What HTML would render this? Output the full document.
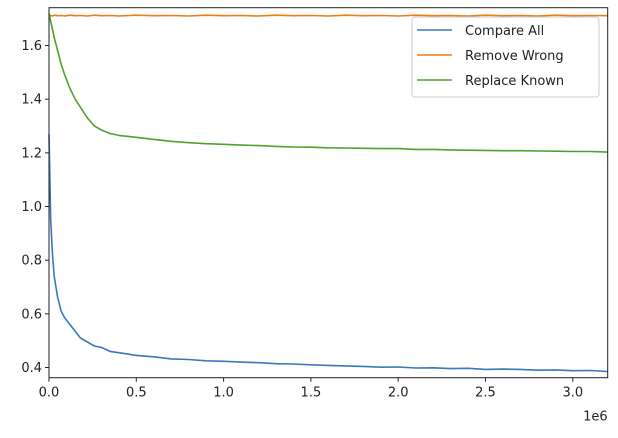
<!DOCTYPE html>
<html><head><meta charset="utf-8"><style>
body{margin:0;background:#fff;}
svg{display:block;font-family:"DejaVu Sans","Liberation Sans",sans-serif;}
</style></head><body>
<svg id="chart" width="618" height="438"></svg>
<script>
const xs = [0,0.01,0.02,0.03,0.05,0.07,0.09,0.12,0.15,0.18,0.22,0.26,0.3,0.35,0.4,0.5,0.6,0.7,0.8,0.9,1.0,1.1,1.2,1.3,1.4,1.5,1.6,1.7,1.8,1.9,2.0,2.1,2.2,2.3,2.4,2.5,2.6,2.7,2.8,2.9,3.0,3.1,3.2];
const compareAll = [1.27,0.95,0.82,0.74,0.66,0.61,0.585,0.56,0.535,0.51,0.495,0.48,0.475,0.46,0.455,0.445,0.44,0.432,0.43,0.425,0.423,0.42,0.418,0.414,0.413,0.41,0.408,0.406,0.404,0.401,0.402,0.398,0.399,0.396,0.397,0.393,0.394,0.393,0.39,0.391,0.388,0.389,0.385];
const removeWrong = [1.71,1.712,1.71,1.713,1.711,1.712,1.71,1.713,1.711,1.712,1.71,1.713,1.711,1.712,1.71,1.713,1.711,1.712,1.71,1.713,1.711,1.712,1.71,1.713,1.711,1.712,1.71,1.713,1.711,1.712,1.71,1.713,1.711,1.712,1.71,1.713,1.711,1.712,1.71,1.713,1.711,1.712,1.711];
const replaceKnown = [1.72,1.69,1.66,1.63,1.58,1.53,1.49,1.44,1.4,1.37,1.33,1.3,1.285,1.272,1.265,1.258,1.25,1.243,1.238,1.234,1.232,1.229,1.227,1.224,1.222,1.221,1.219,1.218,1.217,1.216,1.216,1.213,1.213,1.211,1.21,1.209,1.208,1.208,1.207,1.206,1.205,1.205,1.203];
const xTicks = [0,0.5,1.0,1.5,2.0,2.5,3.0];
const yTicks = [0.4,0.6,0.8,1.0,1.2,1.4,1.6];
const seriesNames = ["Compare All","Remove Wrong","Replace Known"];
const colors = ["#3a78bc","#f07c12","#4ea22c"];

const L=49,R=607.7,T=7.7,B=377.7;
const xMin=0,xMax=3.2,yMin=0.362,yMax=1.741;
const sx=v=>L+(v-xMin)/(xMax-xMin)*(R-L);
const sy=v=>B-(v-yMin)/(yMax-yMin)*(B-T);
const svg=document.getElementById('chart');
const NS='http://www.w3.org/2000/svg';
function mk(t,a,p){const e=document.createElementNS(NS,t);for(const k in a)e.setAttribute(k,a[k]);(p||svg).appendChild(e);return e;}

[compareAll,removeWrong,replaceKnown].forEach((ys,i)=>{
  const d=ys.map((y,j)=>(j?'L':'M')+sx(xs[j]).toFixed(1)+','+sy(y).toFixed(1)).join('');
  const p=mk('path',{d:d,fill:'none',stroke:colors[i],'stroke-width':1.6,'stroke-linejoin':'round'});
  
  
});
const frame=mk('rect',{x:L,y:T,width:R-L,height:B-T,fill:'none',stroke:'#222','stroke-width':1});


xTicks.forEach(v=>{
  const x=sx(v);
  mk('line',{x1:x,x2:x,y1:B,y2:B+4,stroke:'#222'});
  const t=mk('text',{x:x,y:B+19,'text-anchor':'middle','font-size':13,fill:'#222'});
  t.textContent=v.toFixed(1);
  
  
});
yTicks.forEach(v=>{
  const y=sy(v);
  mk('line',{x1:L-4,x2:L,y1:y,y2:y,stroke:'#222'});
  const t=mk('text',{x:L-7,y:y+4.5,'text-anchor':'end','font-size':13,fill:'#222'});
  t.textContent=v.toFixed(1);
  
  
});
const off=mk('text',{x:R,y:B+43,'text-anchor':'end','font-size':13,fill:'#222'});
off.textContent='1e6';



const lg=mk('g',{});


mk('rect',{x:412,y:17,width:187,height:80,rx:3,fill:'#fff','fill-opacity':0.85,stroke:'#ccc'},lg);
seriesNames.forEach((n,i)=>{
  const y=30+i*25;
  mk('line',{x1:417,x2:452,y1:y,y2:y,stroke:colors[i],'stroke-width':1.6},lg);
  const t=mk('text',{x:465,y:y+5,'font-size':13,fill:'#222'},lg);
  t.textContent=n;
  
  
});
</script>
</body></html>
